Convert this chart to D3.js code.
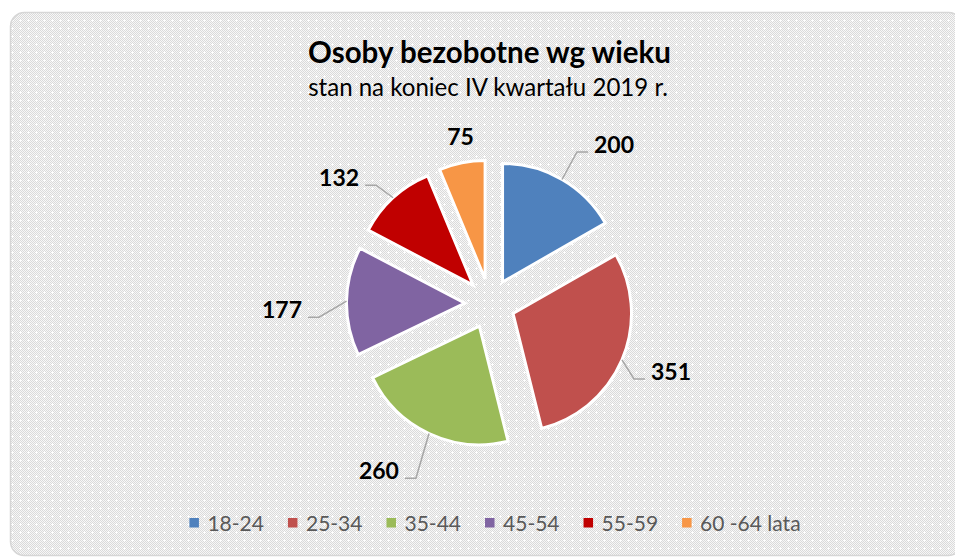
<!DOCTYPE html>
<html><head><meta charset="utf-8">
<script src="https://cdn.jsdelivr.net/npm/d3@7"></script>
<style>body{margin:0;background:#fff;} svg{display:block;font-family:Lato,"Noto Sans",sans-serif;}</style>
</head><body><svg id="c" width="955" height="557"></svg>
<script>
const categories = ["18-24","25-34","35-44","45-54","55-59","60 -64 lata"];
const values = [200,351,260,177,132,75];
const colors = ["#4f81bd","#c0504d","#9bbb59","#8064a2","#c00000","#f79646"];
const titleText = "Osoby bezobotne wg wieku";
const subtitleText = "stan na koniec IV kwartału 2019 r.";

// label layout: angle (deg, clockwise from 12 o'clock) and distance from exploded slice apex
const labelLayout = [
  {angle:33.3,  dist:155.6, side: 1, line:true},
  {angle:116.4, dist:147.4, side: 1, line:true},
  {angle:206.1, dist:169.2, side:-1, line:true},
  {angle:264.9, dist:157.6, side:-1, line:true},
  {angle:312.8, dist:147.2, side:-1, line:true},
  {angle:350.2, dist:144,   side: 0, line:false}
];

const svg = d3.select("#c");
const defs = svg.append("defs");
const chk = defs.append("pattern").attr("id","chk").attr("width",2).attr("height",2).attr("patternUnits","userSpaceOnUse");
chk.append("rect").attr("width",2).attr("height",2).attr("fill","#f7f7f7");
chk.append("rect").attr("width",1).attr("height",1).attr("fill","#dadada");
chk.append("rect").attr("x",1).attr("y",1).attr("width",1).attr("height",1).attr("fill","#dadada");
const bg = defs.append("pattern").attr("id","bg").attr("width",8).attr("height",8).attr("patternUnits","userSpaceOnUse");
bg.append("rect").attr("width",8).attr("height",8).attr("fill","url(#chk)");
bg.append("rect").attr("x",3).attr("y",4).attr("width",3).attr("height",1).attr("fill","#fff");
bg.append("rect").attr("x",4).attr("y",3).attr("width",1).attr("height",3).attr("fill","#fff");

svg.append("rect").attr("x",10.5).attr("y",12.5).attr("width",952).attr("height",543)
  .attr("rx",14).attr("fill","url(#bg)").attr("stroke","#d6d6d6").attr("stroke-width",1.5);

function fit(sel, target){
  const len = sel.node().getComputedTextLength();
  const fs = parseFloat(sel.attr("font-size"));
  sel.attr("font-size", fs*target/len);
}
const t1 = svg.append("text").attr("x",489.5).attr("y",63).attr("text-anchor","middle")
  .attr("font-size",29).attr("font-weight","bold").attr("fill","#000").text(titleText);
fit(t1, 363);
const t2 = svg.append("text").attr("x",488).attr("y",96).attr("text-anchor","middle")
  .attr("font-size",21).attr("fill","#000").text(subtitleText);
fit(t2, 360);

// Pie
const cx = 490, cy = 303.6, R = 118.5, explode = 25;
const pie = d3.pie().sort(null).value(d=>d);
const arcs = pie(values);
const arc = d3.arc().innerRadius(0).outerRadius(R);
const pt = (a, r) => [r*Math.sin(a), -r*Math.cos(a)];
const g = svg.append("g").attr("transform",`translate(${cx},${cy})`);

arcs.forEach((d,i)=>{
  const mid = (d.startAngle+d.endAngle)/2;
  const [ox, oy] = pt(mid, explode);
  const sg = g.append("g").attr("transform",`translate(${ox},${oy})`);
  sg.append("path").attr("d",arc(d)).attr("fill",colors[i])
    .attr("stroke","#fff").attr("stroke-width",3).attr("stroke-linejoin","miter");
  const L = labelLayout[i];
  const la = L.angle*Math.PI/180;
  const [ex, ey] = pt(la, L.dist);
  if (L.line){
    const [sx, sy] = pt(mid, R);
    const elx = ex - L.side*11;
    sg.append("path").attr("d",`M${sx},${sy}L${elx},${ey}L${ex},${ey}`)
      .attr("fill","none").attr("stroke","#a6a6a6").attr("stroke-width",1.5);
    sg.append("text").attr("x", ex + L.side*6).attr("y", ey-7).attr("dy","0.35em")
      .attr("text-anchor", L.side>0?"start":"end")
      .attr("font-size",23).attr("font-weight","bold").attr("fill","#000").text(values[i]);
  } else {
    sg.append("text").attr("x", ex).attr("y", ey).attr("dy","0.35em")
      .attr("text-anchor","middle")
      .attr("font-size",23).attr("font-weight","bold").attr("fill","#000").text(values[i]);
  }
});

// Legend
const leg = svg.append("g");
let xCur = 0;
const gap = 24;
categories.forEach((c,i)=>{
  const it = leg.append("g").attr("transform",`translate(${xCur},0)`);
  it.append("rect").attr("x",0).attr("y",-5).attr("width",9.5).attr("height",9.5).attr("fill",colors[i]);
  const tx = it.append("text").attr("x",18).attr("y",0).attr("dy","0.36em")
    .attr("font-size",21).attr("fill","#595959").text(c);
  const w = tx.node().getComputedTextLength();
  xCur += 18 + w + gap;
});
const totalW = xCur - gap;
leg.attr("transform",`translate(${495 - totalW/2},523)`);
</script></body></html>
